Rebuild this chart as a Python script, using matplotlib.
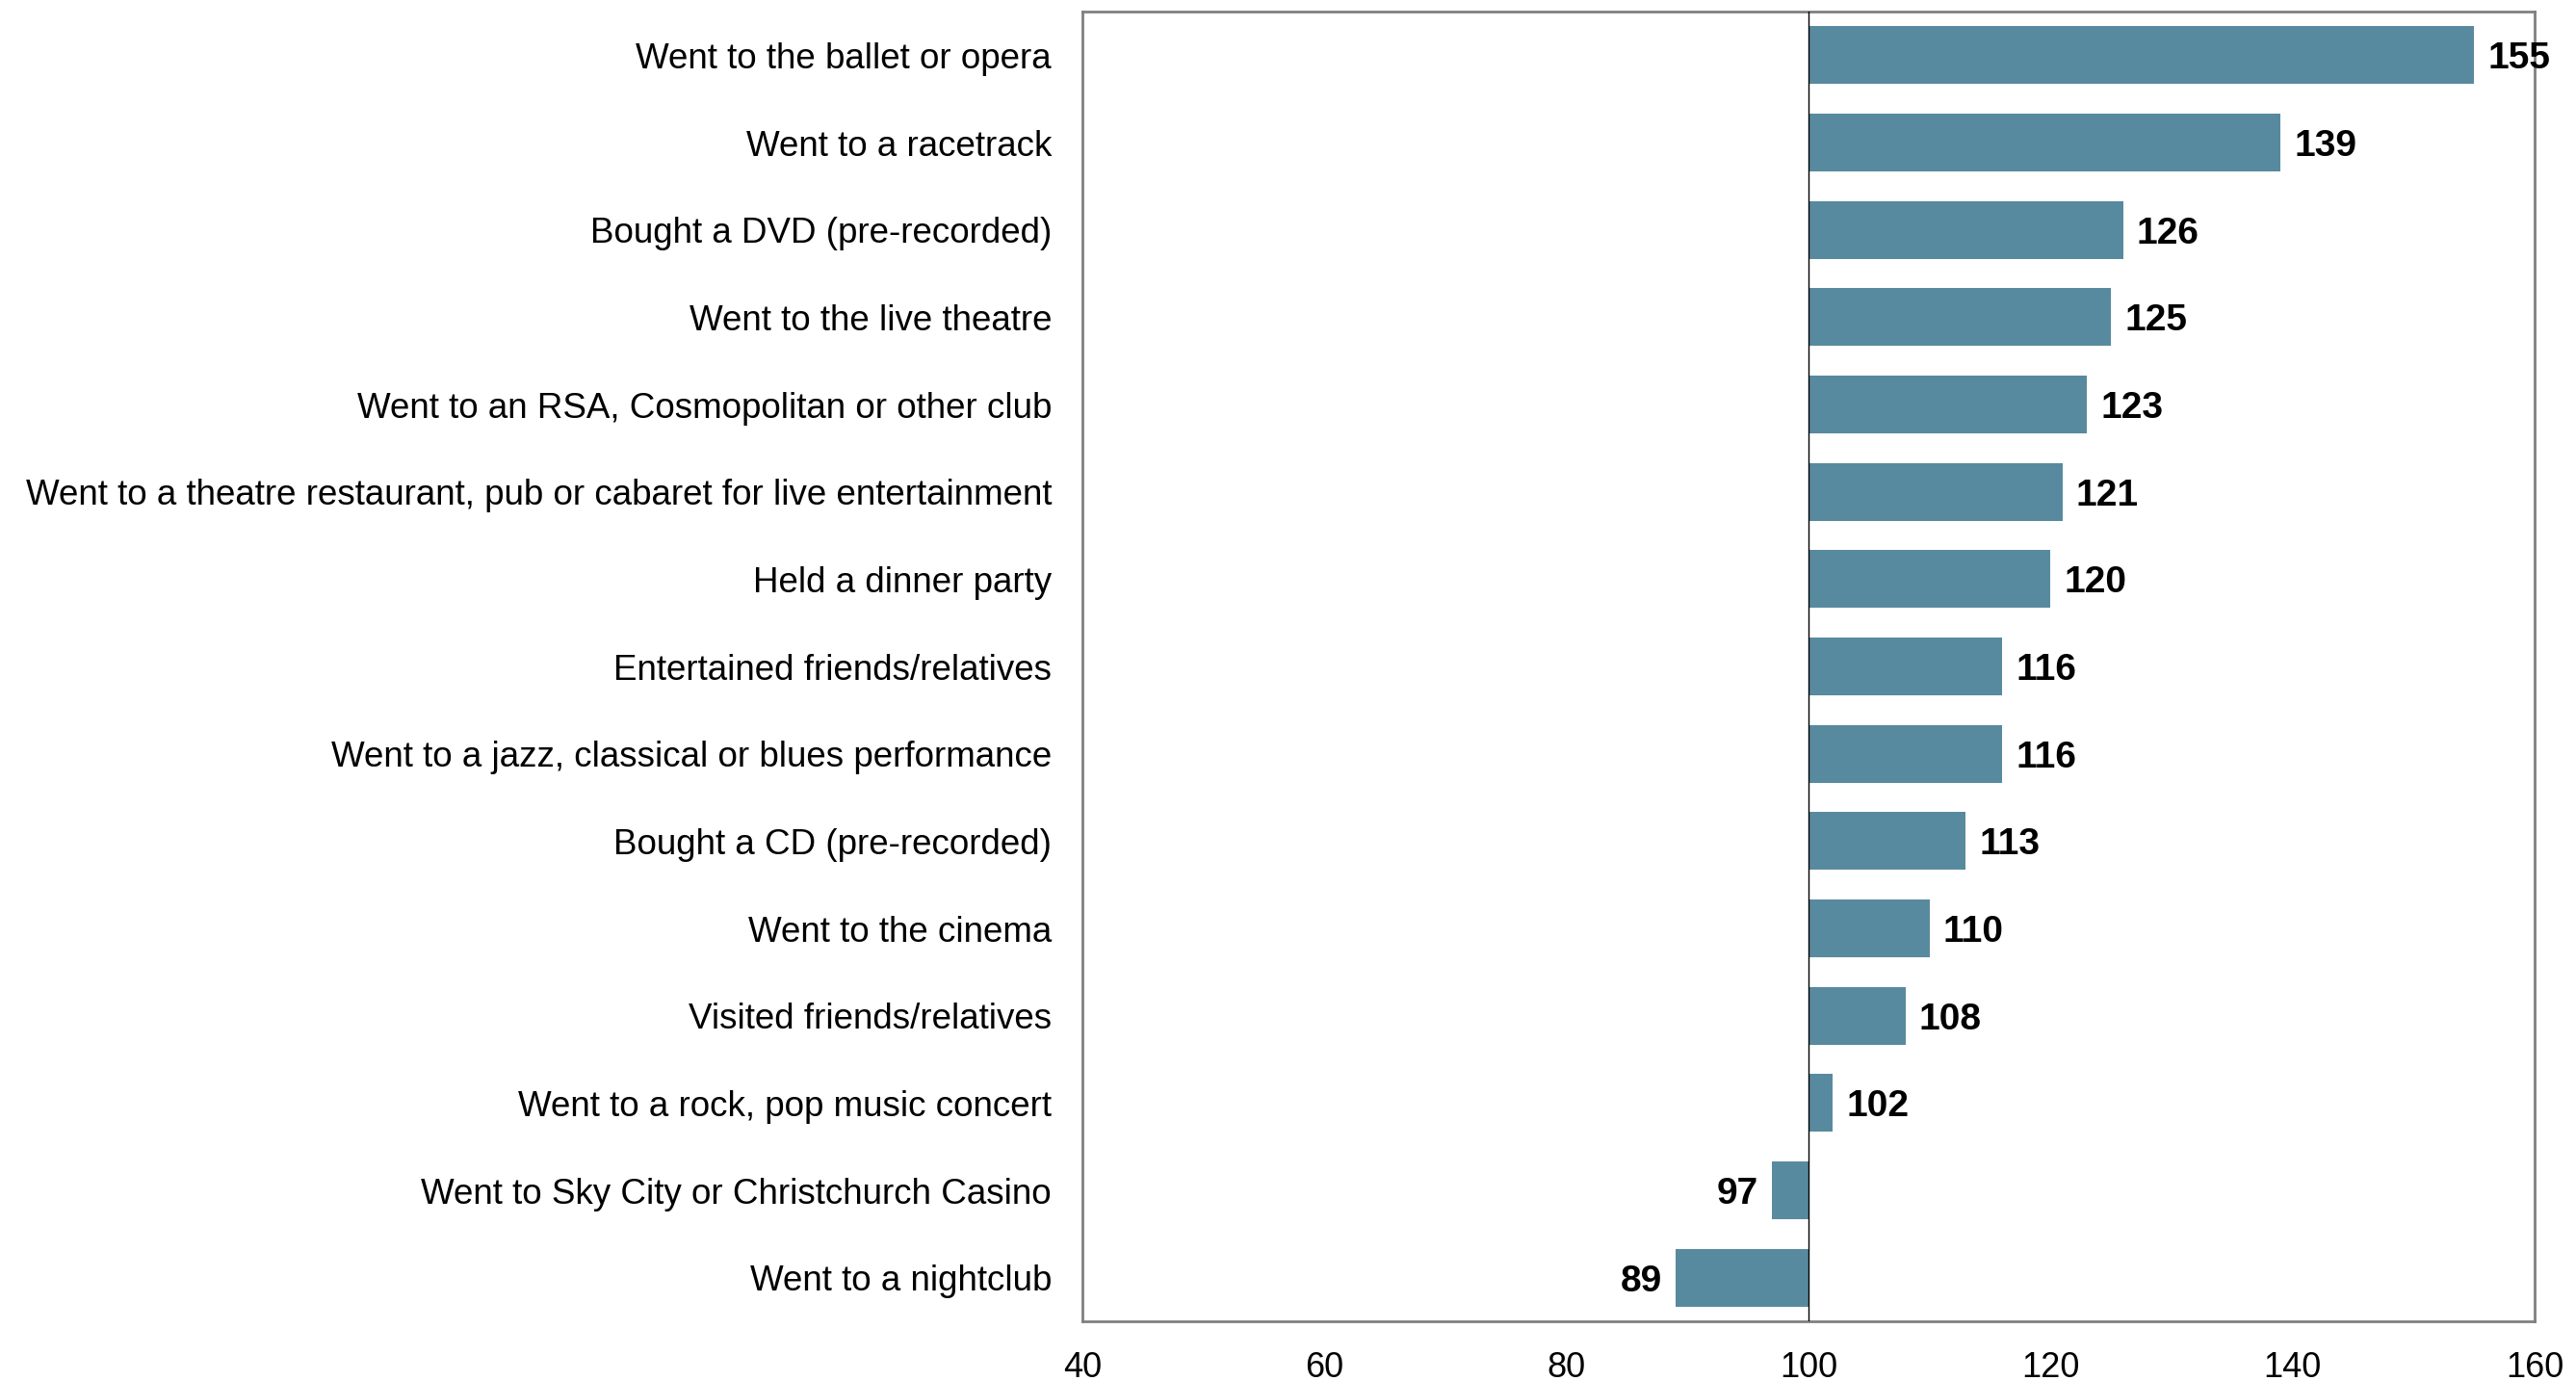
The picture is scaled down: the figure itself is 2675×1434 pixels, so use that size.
import matplotlib
matplotlib.use("Agg")
import matplotlib.pyplot as plt
from matplotlib.transforms import offset_copy

plt.rcParams["font.family"] = ["Liberation Sans", "DejaVu Sans"]

ACTIVITIES = [
    "Went to the ballet or opera",
    "Went to a racetrack",
    "Bought a DVD (pre-recorded)",
    "Went to the live theatre",
    "Went to an RSA, Cosmopolitan or other club",
    "Went to a theatre restaurant, pub or cabaret for live entertainment",
    "Held a dinner party",
    "Entertained friends/relatives",
    "Went to a jazz, classical or blues performance",
    "Bought a CD (pre-recorded)",
    "Went to the cinema",
    "Visited friends/relatives",
    "Went to a rock, pop music concert",
    "Went to Sky City or Christchurch Casino",
    "Went to a nightclub",
]
INDEX = [155, 139, 126, 125, 123, 121, 120, 116, 116, 113, 110, 108, 102, 97, 89]
BASE = 100
XTICKS = [40, 60, 80, 100, 120, 140, 160]

BAR_COLOR = "#588a9f"
FRAME_COLOR = "#808080"

fig = plt.figure(figsize=(26.75, 14.34), dpi=100)
ax = fig.add_axes([1124 / 2675, 1 - 1372 / 1434, (2632 - 1124) / 2675, (1372 - 12) / 1434])

ypos = list(range(len(ACTIVITIES)))
widths = [v - BASE for v in INDEX]
ax.barh(ypos, widths, left=BASE, height=0.66, color=BAR_COLOR, zorder=2)
ax.axvline(BASE, color="black", lw=1.0, zorder=3)

# index values sit just outside the end of each bar
for y, v in zip(ypos, INDEX):
    if v >= BASE:
        tr = offset_copy(ax.transData, fig=fig, x=14, y=0, units="dots")
        ha = "left"
    else:
        tr = offset_copy(ax.transData, fig=fig, x=-14, y=0, units="dots")
        ha = "right"
    ax.text(v, y, str(v), transform=tr, ha=ha, va="center_baseline",
            fontsize=28, fontweight="bold")

ax.set_xlim(40, 160)
ax.set_ylim(len(ACTIVITIES) - 0.5, -0.5)
ax.set_xticks(XTICKS)
ax.set_yticks(ypos)
ax.set_yticklabels(ACTIVITIES, fontsize=26.5)
ax.tick_params(axis="both", length=0)
ax.tick_params(axis="x", pad=22, labelsize=26)
ax.tick_params(axis="y", pad=23)
for s in ax.spines.values():
    s.set_color(FRAME_COLOR)
    s.set_linewidth(2.0)

fig.savefig("out.png", dpi=100)
